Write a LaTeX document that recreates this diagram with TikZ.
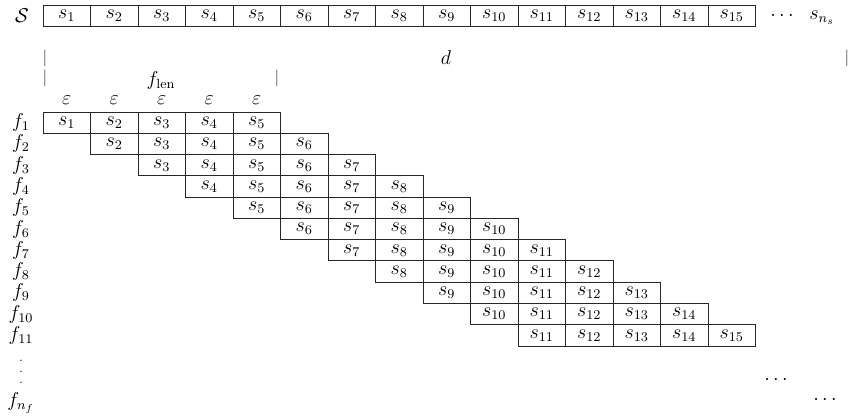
\documentclass[tikz,border=0pt]{standalone}
\begin{document}
\begin{tikzpicture}[x=0.021053cm, y=-0.021053cm,
  every node/.style={font=\fontsize{11.7}{14}\selectfont},
  cell/.style={draw=black!85, line width=0.5pt, minimum width=1cm, minimum height=0.4478cm, inner sep=0pt, anchor=center},
  lab/.style={inner sep=0pt, anchor=center},
  dotmark/.style={inner sep=0pt, anchor=center, font=\fontsize{7}{7}\selectfont},
  barmark/.style={inner sep=0pt, anchor=center, font=\fontsize{10}{11}\selectfont, text=black!80}]
\useasboundingbox (0,0) rectangle (850,417);
% top sequence
\node[lab] (S) at (22,16) {$\mathcal{S}$};
\foreach \j in {1,...,15} {
  \node[cell] (t\j) at ({66.75+(\j-1)*47.5},16) {$s_{\j}$};
}
\node[lab] (tdots) at (782,16) {$\cdots$};
\node[lab] (sns) at (822,18) {$s_{n_s}$};
% d and f_len markers
\node[barmark] (dl) at (45,58) {$|$};
\node[barmark] (dr) at (847,58) {$|$};
\node[lab] (d) at (446,58) {$d$};
\node[barmark] (fl) at (45,78) {$|$};
\node[barmark] (fr) at (277,78) {$|$};
\node[lab] (flen) at (161,80) {$f_{\mathrm{len}}$};
% epsilons
\foreach \j in {1,...,5} {
  \node[lab] (e\j) at ({66.75+(\j-1)*47.5},100) {$\varepsilon$};
}
% frames
\foreach \k in {1,...,11} {
  \pgfmathsetmacro\yy{122.65+(\k-1)*21.27}
  \node[lab] (f\k) at (21,\yy) {$f_{\k}$};
  \foreach \j in {0,...,4} {
    \pgfmathtruncatemacro\idx{\k+\j}
    \node[cell] (c\k-\idx) at ({66.75+(\idx-1)*47.5},\yy) {$s_{\idx}$};
  }
}
\node[dotmark] (vd1) at (21,361) {.};
\node[dotmark] (vd2) at (21,372) {.};
\node[dotmark] (vd3) at (21,383) {.};
\node[lab] (fnf) at (21,403) {$f_{n_f}$};
\node[lab] (rd1) at (776,380) {$\cdots$};
\node[lab] (rd2) at (825,400) {$\cdots$};
\end{tikzpicture}
\end{document}
